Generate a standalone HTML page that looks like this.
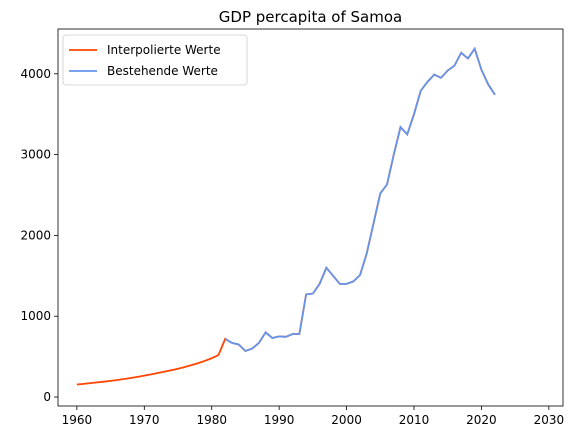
<!DOCTYPE html>
<html><head><meta charset="utf-8"><style>body{margin:0;background:#fff}svg text{font-family:"DejaVu Sans","Liberation Sans",sans-serif}</style></head>
<body>
<svg id="chart" width="578" height="435" xmlns="http://www.w3.org/2000/svg"></svg>
<script>
const interpYears=[1960,1961,1962,1963,1964,1965,1966,1967,1968,1969,1970,1971,1972,1973,1974,1975,1976,1977,1978,1979,1980,1981];
const interpValues=[155,163,172,181,190,200,211,223,236,250,265,280,297,314,332,350,372,395,420,448,480,520];
const existYears=[1982,1983,1984,1985,1986,1987,1988,1989,1990,1991,1992,1993,1994,1995,1996,1997,1998,1999,2000,2001,2002,2003,2004,2005,2006,2007,2008,2009,2010,2011,2012,2013,2014,2015,2016,2017,2018,2019,2020,2021,2022];
const existValues=[720,670,650,570,600,670,800,730,750,745,780,780,1270,1280,1400,1600,1500,1400,1400,1430,1510,1780,2150,2520,2630,3000,3340,3250,3500,3790,3900,3990,3950,4040,4100,4260,4190,4310,4050,3870,3740];
const xTicks=[1960,1970,1980,1990,2000,2010,2020,2030];
const yTicks=[0,1000,2000,3000,4000];
const L=58,R=563,T=29,B=406;
const xMin=1957.2,xMax=2032.1,yMin=-111,yMax=4554;
const X=v=>L+(v-xMin)/(xMax-xMin)*(R-L);
const Y=v=>B-(v-yMin)/(yMax-yMin)*(B-T);
const svg=document.getElementById('chart');
const NS='http://www.w3.org/2000/svg';
function mk(tag,attrs,parent){const e=document.createElementNS(NS,tag);for(const k in attrs)e.setAttribute(k,attrs[k]);(parent||svg).appendChild(e);return e;}
let t=mk('text',{x:(L+R)/2,y:22,'text-anchor':'middle','font-size':'15'});t.textContent='GDP percapita of Samoa';


xTicks.forEach(v=>{const g=mk('g',{});


mk('line',{x1:X(v),x2:X(v),y1:B,y2:B+4,stroke:'#000','stroke-width':0.8},g);
const tx=mk('text',{x:X(v),y:B+18,'text-anchor':'middle','font-size':'12'},g);tx.textContent=v;});
yTicks.forEach(v=>{const g=mk('g',{});


mk('line',{x1:L-4,x2:L,y1:Y(v),y2:Y(v),stroke:'#000','stroke-width':0.8},g);
const tx=mk('text',{x:L-7,y:Y(v)+4,'text-anchor':'end','font-size':'12'},g);tx.textContent=v;});
const allY=interpYears.concat(existYears),allV=interpValues.concat(existValues);
const p1=mk('polyline',{points:allY.map((y,i)=>X(y)+','+Y(allV[i])).join(' '),fill:'none',stroke:'#ff4500','stroke-width':1.8});


const p2=mk('polyline',{points:existYears.map((y,i)=>X(y)+','+Y(existValues[i])).join(' '),fill:'none',stroke:'#6495ed','stroke-width':1.8});


const fr=mk('rect',{x:L,y:T,width:R-L,height:B-T,fill:'none',stroke:'#000','stroke-width':0.8});


const lg=mk('g',{});


mk('rect',{x:63,y:35,width:184,height:50,rx:3,fill:'#fff',stroke:'#ccc','stroke-width':0.8},lg);
mk('line',{x1:69,x2:97,y1:50,y2:50,stroke:'#ff4500','stroke-width':1.8},lg);
let a=mk('text',{x:107,y:54,'font-size':'12'},lg);a.textContent='Interpolierte Werte';
mk('line',{x1:69,x2:97,y1:71,y2:71,stroke:'#6495ed','stroke-width':1.8},lg);
let b=mk('text',{x:107,y:75,'font-size':'12'},lg);b.textContent='Bestehende Werte';
</script>
</body></html>
